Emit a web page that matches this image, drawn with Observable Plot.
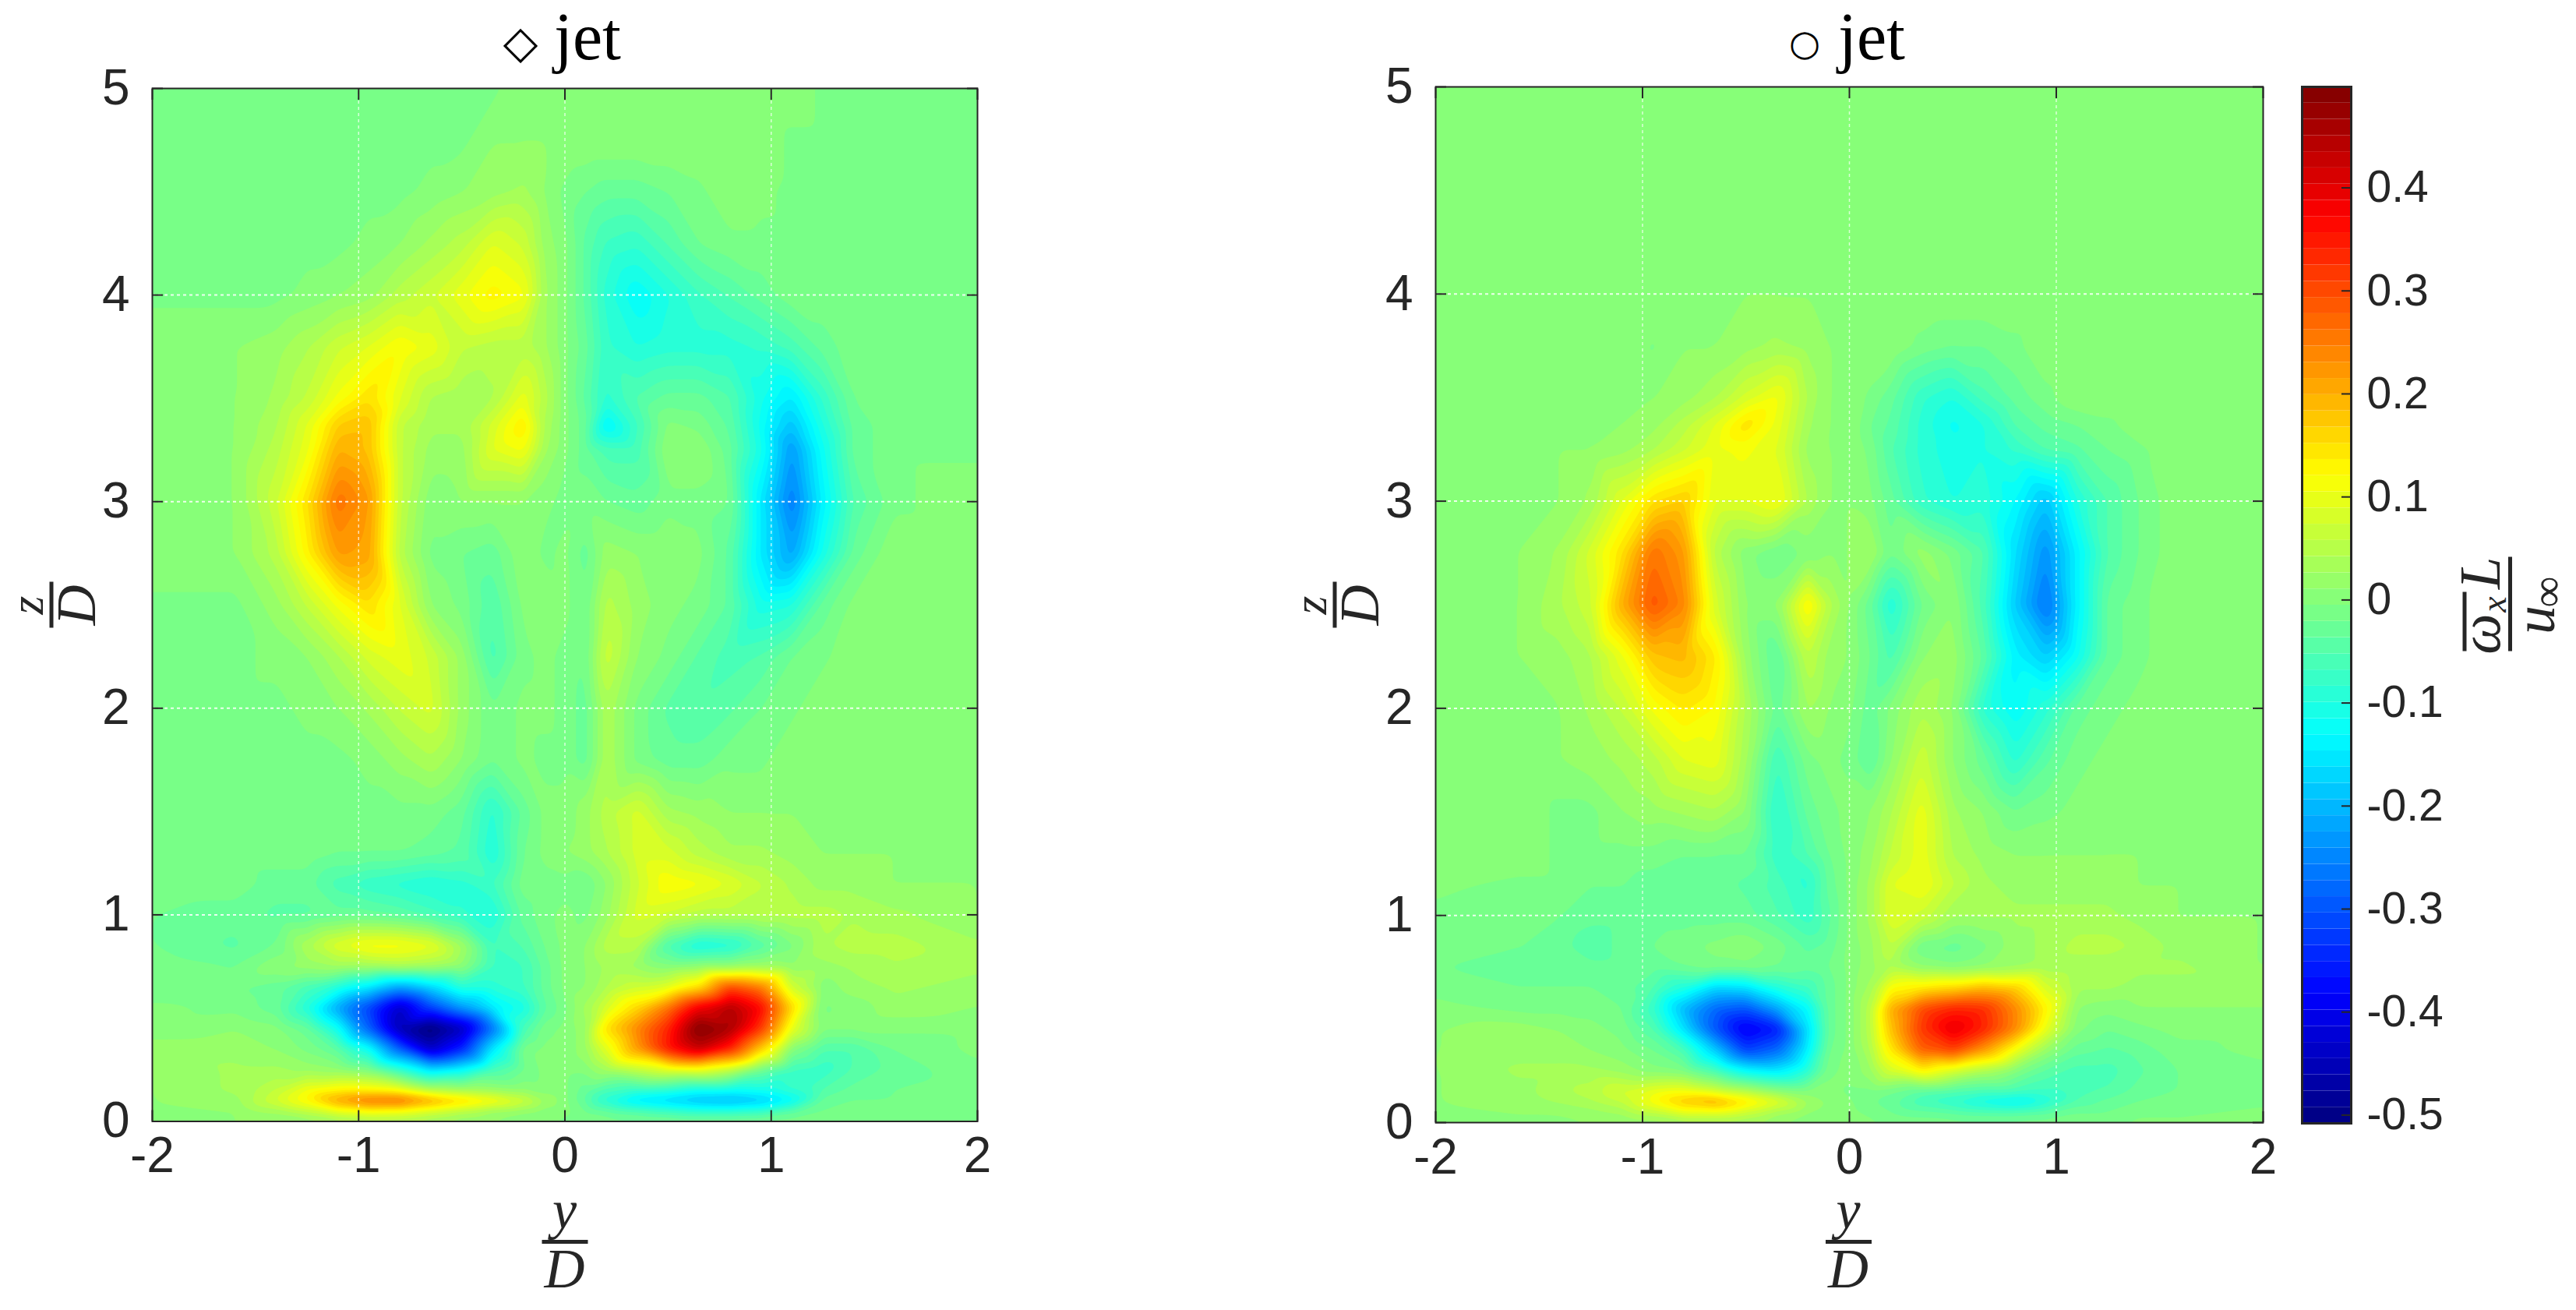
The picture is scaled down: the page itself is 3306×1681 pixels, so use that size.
<!DOCTYPE html>
<html><head><meta charset="utf-8">
<script src="https://cdn.jsdelivr.net/npm/d3@7"></script>
<script src="https://cdn.jsdelivr.net/npm/@observablehq/plot@0.6"></script>
<style>
html,body{margin:0;padding:0;background:#fff;width:3306px;height:1681px;overflow:hidden}
#page{position:relative;width:3306px;height:1681px}
#page>*{position:absolute}
</style></head><body><div id="page"></div>
<script>
// Sampled columns (y/D) and rows (z/D); cell values are in hundredths.
const yColumns=[-2,-1.6,-1.4,-1.25,-1.1,-.95,-.8,-.65,-.5,-.35,-.2,-.1,0,.1,.2,.35,.5,.65,.8,.95,1.1,1.25,1.4,1.6,2];
const zRows=[5,4.75,4.5,4.25,4,3.75,3.5,3.37,3.25,3,2.75,2.5,2.25,2,1.75,1.5,1.3,1.15,1,.85,.75,.65,.55,.45,.35,.25,.15,.1,.05,0];
const diamondRows=[
[-1,-1,-1,-1,-1,-1,-1,-1,-1,-1,1,1,1,1,1,1,1,1,1,1,1,-1,-1,-1,-1],
[-1,-1,-1,-1,-1,-1,-1,-1,-1,1,1,1,1,1,1,1,1,1,1,1,-1,-1,-1,-1,-1],
[-1,-1,-1,-1,-1,-1,-1,0,1,2,3,1,-1,-2,-3,-3,-2,-1,1,0,-1,-1,-1,-1,-1],
[-1,-1,-1,-1,-1,0,1,3,5,9,7,2,0,-4,-7,-8,-5,-2,-1,-1,-1,-1,-1,-1,-1],
[-1,-1,-1,0,1,2,5,7,10,13,11,3,0,-4,-9,-13,-10,-7,-5,-3,-1,-1,-1,-1,-1],
[1,1,2,4,7,9,12,10,6,5,5,3,0,-3,-8,-10,-9,-9,-9,-8,-6,-3,-1,-1,-1],
[1,1,3,6,11,15,9,4,3,4,10,5,0,-4,-9,-5,-3,-3,-5,-11,-15,-8,-2,-1,-1],
[1,1,4,9,17,18,6,3,3,8,14,4,0,-3,-14,-7,0,-1,-4,-12,-19,-10,-3,-1,-1],
[1,1,5,10,20,18,6,2,2,9,11,3,0,-3,-6,-6,1,1,-3,-11,-23,-12,-3,-1,-1],
[1,1,7,15,26,22,6,0,1,1,1,0,-1,-1,-2,-3,-1,-1,-2,-15,-26,-14,-5,-1,1],
[1,1,5,13,22,21,5,-1,-2,-3,1,-1,0,-3,2,1,1,0,-4,-15,-22,-11,-3,1,1],
[-1,-1,2,6,11,15,9,1,-1,-5,0,1,0,-2,5,2,0,-1,-4,-11,-10,-3,0,1,1],
[-1,-1,0,1,4,8,10,7,2,-6,-1,0,-1,-2,7,1,-1,-4,-6,-5,-2,-1,1,1,1],
[-1,-1,-1,0,1,3,6,8,2,-2,0,0,-1,-3,4,-1,-4,-5,-4,-2,-1,1,1,1,1],
[-1,-1,-1,-1,-1,0,2,4,1,-2,0,-1,-1,-3,4,-1,-3,-3,-1,-1,1,1,1,1,1],
[-1,-1,-1,-1,-1,-1,-1,-1,-3,-9,-3,0,0,2,5,8,3,2,1,1,1,1,1,1,1],
[-1,-1,-1,-1,-2,-2,-2,-3,-4,-10,-2,0,1,2,4,8,8,5,3,3,2,1,1,1,1],
[-1,-1,-3,-3,-6,-8,-9,-10,-9,-7,-1,-1,-1,-2,1,7,12,11,9,6,4,2,2,1,1],
[-2,-3,-4,-4,-3,-3,-4,-6,-8,-10,-3,-1,0,-1,2,8,7,5,5,5,5,5,4,3,1],
[-2,-4,-2,4,9,12,12,10,3,-7,-5,-2,0,1,5,5,-6,-11,-10,-5,-1,4,5,5,3],
[-1,-2,1,2,3,3,4,3,1,-7,-7,-3,0,1,3,2,0,1,1,2,1,2,3,4,3],
[-2,-2,-3,-6,-10,-15,-22,-17,-9,-9,-7,-3,0,1,4,7,9,15,30,25,7,0,2,3,2],
[0,-1,-3,-10,-22,-32,-44,-32,-23,-15,-11,-4,-1,3,8,16,26,39,45,37,16,-1,0,2,1],
[0,1,0,-3,-12,-29,-46,-52,-45,-27,-6,-1,0,2,15,24,34,50,46,32,10,0,0,0,0],
[2,2,1,-1,-4,-12,-29,-44,-35,-15,-1,0,0,2,9,22,35,43,34,17,0,-5,-5,-2,0],
[1,3,3,2,1,-1,-8,-16,-13,-6,-2,0,0,0,3,6,9,10,6,-2,-7,-8,-5,-3,-1],
[1,3,6,11,13,13,11,5,3,2,1,0,0,-3,-6,-8,-9,-12,-12,-11,-8,-5,-3,-2,-1],
[1,2,8,13,22,27,28,22,17,13,8,3,0,-4,-10,-16,-18,-20,-21,-19,-14,-3,-2,-2,-1],
[1,1,3,6,10,12,11,8,5,2,1,0,0,-2,-3,-5,-7,-9,-9,-8,-4,-2,-1,-1,-1],
[1,1,1,1,2,3,3,2,1,1,0,0,-1,-1,-1,-1,-1,-1,-1,-1,-1,-1,-1,-1,-1]];
const circleRows=[
[1,1,1,1,1,1,1,1,1,1,1,1,1,1,1,1,1,1,1,1,1,1,1,1,1],
[1,1,1,1,1,1,1,1,1,1,1,1,1,1,1,1,1,1,1,1,1,1,1,1,1],
[1,1,1,1,1,1,1,1,1,1,1,1,1,1,1,1,1,1,1,1,1,1,1,1,1],
[1,1,1,1,1,1,1,1,1,1,1,1,1,1,1,1,1,1,1,1,1,1,1,1,1],
[1,1,1,1,1,1,1,1,1,1,1,1,1,1,1,1,1,1,1,1,1,1,1,1,1],
[1,1,1,1,1,-.8,1,1,2,3,2,1,1,1,1,-1,-2,-2,-1,1,1,1,1,1,1],
[1,1,1,1,1,1,2,4,8,11,4,1,1,-1,-3,-8,-10,-6,-3,-1,1,1,1,1,1],
[1,1,1,1,1,2,5,9,15,10,3,1,1,-2,-4,-9,-12,-10,-5,-3,-2,-1,1,1,1],
[1,1,1,1,2,4,7,10,11,9,2,1,1,-1,-5,-9,-11,-10,-8,-5,-4,-2,-1,1,1],
[1,1,1,3,9,15,17,9,9,11,4,1,1,0,-3,-8,-10,-9,-13,-19,-10,-5,-2,1,1],
[1,1,3,8,15,26,22,5,0,-2,0,1,1,3,-2,2,-1,-5,-16,-24,-14,-5,-2,1,1],
[1,1,4,7,20,29,24,8,1,1,13,5,1,-3,-10,-2,1,-6,-18,-27,-14,-3,-1,1,1],
[1,1,2,4,10,18,19,14,2,-4,6,2,1,-2,-6,1,2,-4,-14,-18,-12,-3,-1,1,1],
[1,1,1,3,6,11,14,12,4,-3,3,1,0,-3,0,4,1,-9,-13,-9,-3,-1,0,1,1],
[1,1,1,2,3,5,9,10,3,-7,-1,0,-1,-4,1,7,1,-3,-9,-4,-1,0,1,1,1],
[1,1,-1,-1,1,2,3,4,1,-9,-3,-1,0,1,4,10,3,1,-2,-1,0,1,1,1,1],
[1,1,-1,-1,-1,-1,-2,-2,-2,-8,-5,-2,0,2,6,10,4,2,1,1,1,1,1,1,1],
[0,-1,-1,-2,-2,-3,-3,-3,-4,-6,-9,-3,0,3,9,11,6,3,2,2,2,2,1,1,1],
[-1,-1,-2,-3,-3,-3,-3,-3,-3,-5,-8,-4,0,3,9,7,3,3,3,3,3,3,2,1,1],
[-1,-2,-3,-5,-3,-2,-1,0,1,-1,-4,-3,0,2,6,-2,-3,-1,2,3,5,5,4,2,1],
[-2,-3,-3,-3,-3,-3,-2,-1,-1,-2,-3,-2,0,2,4,1,0,1,2,3,3,3,3,3,1],
[-1,-2,-2,-2,-3,-5,-10,-17,-16,-10,-7,-3,0,3,12,14,16,19,17,8,3,3,2,2,2],
[0,-1,-1,-1,-2,-8,-20,-28,-30,-22,-13,-3,0,5,20,30,34,33,24,13,1,0,1,1,1],
[1,2,1,0,-1,-5,-16,-30,-40,-36,-16,-3,0,5,18,32,40,34,24,10,0,-2,-1,0,0],
[1,2,2,1,0,-2,-6,-18,-32,-28,-14,-2,0,4,14,28,31,22,11,2,-3,-4,-3,-1,0],
[1,3,3,3,2,0,-1,-6,-13,-15,-9,-1,0,2,8,13,8,4,0,-4,-6,-6,-4,-2,-1],
[1,2,4,5,8,10,11,8,5,1,0,0,-1,-1,-2,-4,-5,-6,-6,-7,-6,-5,-3,-2,-1],
[1,2,3,4,6,12,18,21,15,10,3,1,0,-2,-3,-7,-9,-12,-14,-10,-5,-3,-2,-1,-1],
[1,1,1,2,3,6,10,10,7,3,1,0,0,-1,-2,-3,-4,-5,-5,-4,-2,-2,-1,-1,0],
[1,1,1,1,1,1,2,2,2,1,0,0,0,0,-1,-1,-1,-1,-1,-1,-1,-1,0,0,0]];
const xTicks=[-2,-1,0,1,2];
const zTicks=[0,1,2,3,4,5];
const barTicks=[-.5,-.4,-.3,-.2,-.1,0,.1,.2,.3,.4];
const valueDomain=[-.508,.498];

const levelCount=64;
const ramp=v=>Math.max(0,Math.min(1,Math.min(4*v-.5,-4*v+3.5)));
const jet=i=>{const t=(i+.5)/levelCount;return d3.rgb(255*ramp(t-.25),255*ramp(t),255*ramp(t+.25)).formatHex();};
const jetColors=d3.range(levelCount).map(jet);
const step=(valueDomain[1]-valueDomain[0])/levelCount;
const edges=d3.range(1,levelCount).map(i=>valueDomain[0]+i*step);
const colorScale={type:"threshold",domain:edges,range:jetColors};
const tableOf=rows=>zRows.flatMap((z,r)=>yColumns.map((y,c)=>({y,z,v:rows[r][c]/100})));

const ink="#262626";
function panel(rows,left,top,right,bottom,width){
  return Plot.plot({
    width,height:1681,marginLeft:left,marginRight:width-right,marginTop:top,marginBottom:1681-bottom,
    style:{fontFamily:"'Liberation Sans',Arial,sans-serif",color:ink,background:"transparent",overflow:"visible"},
    x:{domain:[-2,2]},y:{domain:[0,5]},color:colorScale,
    marks:[
      Plot.contour(tableOf(rows),{x:"y",y:"z",fill:"v",interpolate:"barycentric",thresholds:[-1,...edges],pixelSize:1.5,blur:3,stroke:"none"}),
      Plot.gridX(xTicks.slice(1,-1),{stroke:"#fff",strokeOpacity:.7,strokeWidth:1.5,strokeDasharray:"4,4"}),
      Plot.gridY(zTicks.slice(1,-1),{stroke:"#fff",strokeOpacity:.85,strokeWidth:2,strokeDasharray:"4,4"}),
      Plot.axisX(xTicks,{anchor:"bottom",tickSize:-14,tickPadding:34,fontSize:64,label:null,strokeWidth:2,tickFormat:d=>String(d)}),
      Plot.axisX(xTicks,{anchor:"top",tickSize:-14,label:null,strokeWidth:2,tickFormat:()=>""}),
      Plot.axisY(zTicks,{anchor:"left",tickSize:-14,tickPadding:43,fontSize:64,label:null,strokeWidth:2,tickFormat:d=>String(d)}),
      Plot.axisY(zTicks,{anchor:"right",tickSize:-14,label:null,strokeWidth:2,tickFormat:()=>""}),
      Plot.frame({stroke:ink,strokeWidth:2})
    ]
  });
}
function colorbar(){
  const levels=jetColors.map((c,i)=>({lo:valueDomain[0]+i*step,hi:valueDomain[0]+(i+1)*step,c}));
  return Plot.plot({
    width:250,height:1681,marginLeft:24,marginRight:163,marginTop:111,marginBottom:240,
    style:{fontFamily:"'Liberation Sans',Arial,sans-serif",color:ink,background:"transparent",overflow:"visible"},
    x:{domain:[0,1],axis:null},y:{domain:valueDomain},
    marks:[
      Plot.rect(levels,{x1:0,x2:1,y1:"lo",y2:"hi",fill:d=>d.c}),
      Plot.axisY(barTicks,{anchor:"right",tickSize:-13,tickPadding:33,fontSize:57,label:null,strokeWidth:2,tickFormat:d=>String(d)}),
      Plot.frame({stroke:ink,strokeWidth:3})
    ]
  });
}
const page=document.getElementById("page");
const place=(el,x)=>{el.style.left=x+"px";el.style.top="0";page.appendChild(el);};
place(panel(diamondRows,195,113,1254,1438.5,1500),0);
place(panel(circleRows,242,111,1304,1440,1400),1600);
place(colorbar(),2930);

// Titles and math labels
const svg=d3.select(page).append("svg").attr("width",3306).attr("height",1681).style("left","0").style("top","0").style("pointer-events","none");
const serif="'Liberation Serif',serif";
function t(g,s,x,y,size,opts={}){
  return g.append("text").attr("x",x).attr("y",y).attr("font-size",size).attr("text-anchor",opts.anchor||"middle")
    .attr("font-family",opts.family||serif).attr("font-style",opts.style||"normal").attr("fill",opts.fill||ink).text(s);
}
function fraction(cx,cy,rot,top,bottom,yTop,yBot,topSize){
  const g=svg.append("g").attr("transform",`translate(${cx},${cy}) rotate(${rot})`);
  g.append("rect").attr("x",-30).attr("y",-2.5).attr("width",59).attr("height",5).attr("fill",ink);
  t(g,top,-1,yTop,topSize,{style:"italic"});
  t(g,bottom,-1,yBot,72,{style:"italic"});
}
t(svg,"\u25C7",668,74,58,{family:"'DejaVu Sans'",fill:"#000"});
t(svg,"jet",754,76,86,{fill:"#000"});
t(svg,"\u25CB",2316,71,46,{family:"'DejaVu Sans'",fill:"#000"});
t(svg,"jet",2402,76,86,{fill:"#000"});
fraction(725.5,1593.5,0,"y","D",-18,58,70);
fraction(2373,1593.5,0,"y","D",-18,58,70);
fraction(66,775.5,-90,"z","D",-11,56,61);
fraction(1713,775.5,-90,"z","D",-11,56,61);
const cb=svg.append("g").attr("transform","translate(3221.5,775.5) rotate(-90)");
cb.append("rect").attr("x",-60).attr("y",-2.5).attr("width",121).attr("height",5).attr("fill",ink);
cb.append("rect").attr("x",-60).attr("y",-61).attr("width",76).attr("height",5).attr("fill",ink);
t(cb,"\u03C9",-38,-14,74,{style:"italic"});
t(cb,"x",0,-6,46,{style:"italic"});
t(cb,"L",40,-14,74,{style:"italic"});
t(cb,"u",-20,56,74,{style:"italic"});
t(cb,"\u221E",16,66,56,{});
</script></body></html>
